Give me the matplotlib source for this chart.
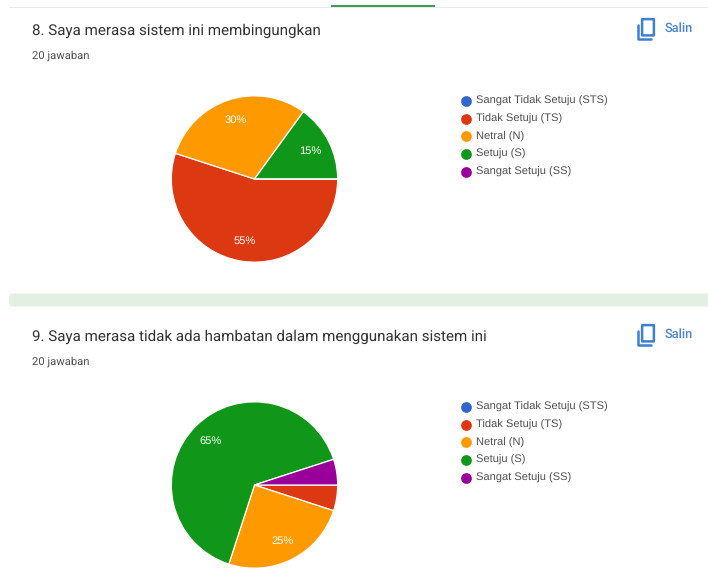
import matplotlib
matplotlib.use('Agg')
import matplotlib.pyplot as plt
from matplotlib.patches import Rectangle, FancyBboxPatch

plt.rcParams['text.hinting'] = 'no_hinting'

# Data, legend order
categories = ['Sangat Tidak Setuju (STS)', 'Tidak Setuju (TS)', 'Netral (N)', 'Setuju (S)', 'Sangat Setuju (SS)']
colors = ['#3366cc', '#dc3912', '#ff9900', '#109618', '#990099']
values_q8 = [0, 55, 30, 15, 0]
values_q9 = [0, 5, 25, 65, 5]
title_q8 = '8. Saya merasa sistem ini membingungkan'
title_q9 = '9. Saya merasa tidak ada hambatan dalam menggunakan sistem ini'
count_label = '20 jawaban'
copy_label = 'Salin'

W, H = 708, 585
fig = plt.figure(figsize=(W / 100, H / 100), dpi=100)
fig.patch.set_facecolor('white')

# Background axes in pixel coords, y going down like the screenshot
bg = fig.add_axes([0, 0, 1, 1])
bg.set_xlim(0, W)
bg.set_ylim(H, 0)
bg.axis('off')

# Card edges and the band between the two cards
bg.add_patch(Rectangle((9, 6.5), W - 9, 1.2, facecolor='#e8eae8', edgecolor='none'))
bg.add_patch(Rectangle((331, 5.2), 104, 1.4, facecolor='#3f9b4f', edgecolor='none'))
bg.add_patch(FancyBboxPatch((12, 296), W, 8, boxstyle='round,pad=2.5', facecolor='#e3efe2', edgecolor='none'))
bg.add_patch(Rectangle((9, 296), 6, 8, facecolor='#e3efe2', edgecolor='none'))


def copy_icon(y0):
    blue = '#3f7fd0'
    # back sheet, only left and bottom sides show
    bg.plot([638, 638, 651], [y0 + 6, y0 + 20, y0 + 20], color=blue, lw=1.8, solid_capstyle='round')
    bg.add_patch(FancyBboxPatch((642.5, y0 + 0.5), 11, 15.5, boxstyle='round,pad=0.4',
                                facecolor='white', edgecolor=blue, linewidth=1.8))


def draw_card(title, values, top):
    bg.text(32, top + 24.5, title, fontsize=10.9, family='Roboto', color='#333333', va='center', ha='left')
    bg.text(32, top + 50, count_label, fontsize=8.1, family='Roboto', color='#505050', va='center', ha='left')
    copy_icon(top + 13)
    bg.text(665, top + 22, copy_label, fontsize=9.2, family='Roboto', weight='medium', color='#4a86d4',
            va='center', ha='left')

    # Legend
    for i, (name, col) in enumerate(zip(categories, colors)):
        y = top + 95 + i * 17.7
        bg.scatter([465.5], [y], s=60, color=col, linewidths=0)
        bg.text(476, y, name, fontsize=8.0, family='Liberation Sans', color='#505050', va='center', ha='left')

    # Pie: 84 px radius around (254.5, top + 173)
    cx, cy, r = 254.5, top + 173, 84
    ax = fig.add_axes([(cx - r) / W, 1 - (cy + r) / H, 2 * r / W, 2 * r / H])
    wedges, texts, autotexts = ax.pie(values, colors=colors, startangle=0, counterclock=False, radius=1,
                                      wedgeprops=dict(edgecolor='white', linewidth=0.9),
                                      autopct=lambda p: f'{p:.0f}%' if p >= 10 else '', pctdistance=0.75,
                                      textprops=dict(color='white', fontsize=8.0, family='Liberation Sans'))
    ax.set_xlim(-1.01, 1.01)
    ax.set_ylim(-1.01, 1.01)
    ax.patch.set_alpha(0)


draw_card(title_q8, values_q8, 6)
draw_card(title_q9, values_q9, 312)

fig.savefig('out.png', dpi=100, facecolor='white')
